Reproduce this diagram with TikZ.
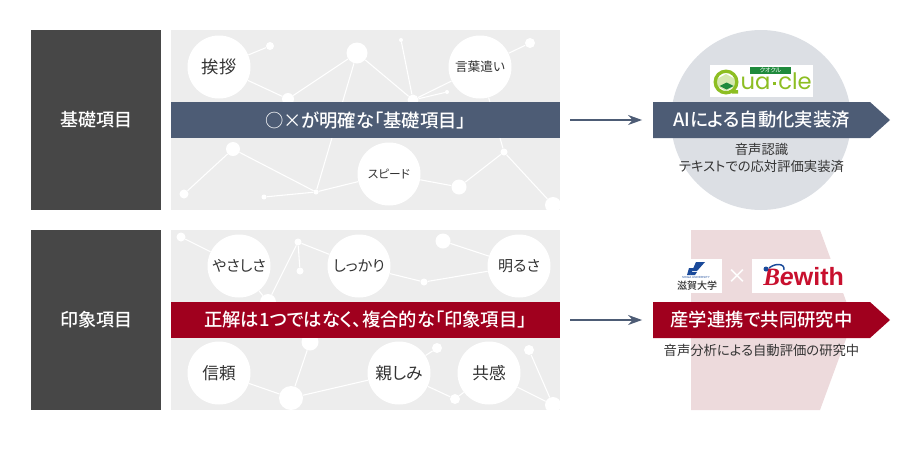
\documentclass[tikz,border=0pt]{standalone}
\usepackage{fontspec}
\setmainfont[RawFeature=+palt,BoldFont={Noto Sans CJK JP Medium}]{Noto Sans CJK JP}
\newfontfamily\logofont{Poppins}
\newfontfamily\bwfont{Liberation Sans}
\newfontfamily\bwserif{Liberation Serif}
\usepackage{xcolor}
\usetikzlibrary{arrows.meta,positioning}
\definecolor{ink}{HTML}{333333}
\definecolor{slab}{HTML}{474747}
\definecolor{navy}{HTML}{4D5C75}
\definecolor{wine}{HTML}{A0001E}
\definecolor{panel}{HTML}{EDEDED}
\definecolor{mist}{HTML}{DCDFE4}
\definecolor{blush}{HTML}{EDDADC}
\definecolor{leaf}{HTML}{8DBE22}
\definecolor{pale}{HTML}{D5E8B0}
\definecolor{moss}{HTML}{1F8A3C}
\definecolor{shiga}{HTML}{1A4A9A}
\definecolor{bwred}{HTML}{C8102E}
\newcommand{\sz}[1]{\fontsize{#1}{#1}\selectfont}
\begin{document}
\begin{tikzpicture}[x=.75pt,y=-.75pt,>={Stealth[length=10.5pt,width=7.5pt]},
   dot/.style={circle,fill=white,inner sep=0pt,minimum size=#1*1.5pt},
   word/.style={circle,fill=white,inner sep=0pt,minimum size=47.25pt,text=ink,font=\sz{#1}},
   link/.style={draw=white,line width=.8pt},
   slabbox/.style={fill=slab,text=white,minimum width=97.5pt,minimum height=135pt,inner sep=0pt,font=\bfseries\sz{13.5}},
   bar/.style={fill=#1,text=white,minimum width=291.75pt,minimum height=27pt,inner sep=0pt,font=\bfseries\sz{13.75}},
   goal/.style={text=white,inner sep=0pt,minimum width=162.75pt,minimum height=27pt,font=\bfseries\sz{13.75}},
   note/.style={text=ink,align=center,inner sep=0pt,font=\sz{10}},
   logo/.style={inner sep=0pt,anchor=base}]
  \useasboundingbox (0,0) rectangle (916,458);
  \node[slabbox] (kiso) at (96,120) {基礎項目};
  \node[slabbox] (insho) at (96,320) {印象項目};

  \fill[panel] (171,30) rectangle (560,210);
  \begin{scope}
    \clip (171,30) rectangle (560,210);
    \foreach \n/\x/\y/\r in {a1/270/46/4,a2/357/53/10.5,a3/288/99/6,a4/401/40/2,a5/413/100/5.5,a6/447/92/2,
        a7/530/43/5,a8/233/149/7,a9/184/194/4.5,a10/264/197/2.5,a11/316/192/2.5,a12/459/187/7.5,a13/504/152/3.5,a14/553/205/8}
      \node[dot=\r] (\n) at (\x,\y) {};
    \node[word=13] (aisatsu) at (219,67) {挨拶};
    \node[word=9.5] (kotoba) at (480,67) {言葉遣い};
    \node[word=8.75] (speed) at (389,174) {スピード};
    \foreach \p/\q in {aisatsu/a1,aisatsu/a3,a3/a2,a2/a5,a2/a11,a4/a5,a5/a6,a5/kotoba,kotoba/a7,kotoba/a13,
        a8/a9,a8/a11,a10/a11,a11/speed,speed/a12,a12/a13,a13/a14}
      \draw[link] (\p) -- (\q);
  \end{scope}

  \fill[panel] (171,230) rectangle (560,410);
  \begin{scope}
    \clip (171,230) rectangle (560,410);
    \foreach \n/\x/\y/\r in {b1/181/237/4.5,b2/298/242/3.5,b3/300/271/3.5,b4/268/302/8,b5/443/241/7.5,b6/424/282/3.5,
        b7/310/342/8.5,b8/291/398/12,b9/437/348/5,b10/455/399/5,b11/529/350/5,b12/553/405/8}
      \node[dot=\r] (\n) at (\x,\y) {};
    \node[word=11.25] (yasashisa) at (239,266) {やさしさ};
    \node[word=11.25] (shikkari) at (359,266) {しっかり};
    \node[word=11.25] (akarusa) at (519,266) {明るさ};
    \node[word=12.5] (shinrai) at (219,373) {信頼};
    \node[word=12.5] (shitashimi) at (399,373) {親しみ};
    \node[word=12.5] (kyokan) at (489,373) {共感};
    \foreach \p/\q in {b1/yasashisa,yasashisa/b4,b4/b2,b2/b3,b2/shikkari,shikkari/b6,b6/akarusa,b5/akarusa,
        shinrai/b8,b8/b7,b8/shitashimi,shitashimi/b9,shitashimi/b10,b10/kyokan,kyokan/b12,b11/b12}
      \draw[link] (\p) -- (\q);
  \end{scope}

  \node[bar=navy] (maru) at (365.5,120) {{\mdseries ○×}が明確な「基礎項目」};
  \node[bar=wine] (seikai) at (365.5,320) {正解は1つではなく、複合的な「印象項目」};

  \fill[mist] (761,120) circle (90);
  \fill[blush] (691,230) -- (820,230) -- (853,320) -- (820,410) -- (691,410) -- cycle;

  \fill[navy] (653,102) -- (870,102) -- (890,120) -- (870,138) -- (653,138) -- cycle;
  \fill[wine] (653,302) -- (870,302) -- (890,320) -- (870,338) -- (653,338) -- cycle;
  \node[goal] (ai) at (761.5,120) {AIによる自動化実装済};
  \node[goal] (sangaku) at (761.5,320) {産学連携で共同研究中};
  \node[note,below=3.5pt of ai.south] (onsei) {音声認識\\[3pt]テキストでの応対評価実装済};
  \node[note,below=4pt of sangaku.south] (bunseki) {音声分析による自動評価の研究中};

  \draw[->,draw=navy,line width=.9pt,shorten <=7.5pt,shorten >=8pt] (maru.east) -- (ai.west);
  \draw[->,draw=navy,line width=.9pt,shorten <=7.5pt,shorten >=8pt] (seikai.east) -- (sangaku.west);

  \fill[white] (710,65) rectangle (813,97);
  \fill[pale] (726,74) -- (735,79) -- (735,86) -- (726,91) -- (717,86) -- (717,79) -- cycle;
  \draw[leaf,line width=2.5pt] (726,82) circle (10.8);
  \fill[moss] (726.5,82.5) -- (733.5,86) -- (726.5,89.5) -- (719.5,86) -- cycle;
  \fill[leaf] (729,90) -- (738,90) -- (738,93.5) -- (732,93.5) -- cycle;
  \fill[moss] (750,67) rectangle (791,74);
  \node[text=white,inner sep=0pt,font=\sz{4.5}] (kuoqul) at (770.5,70.5) {クオクル};
  \node[logo,text=leaf,font=\logofont\sz{17}] (quaua) at (755.5,89) {ua};
  \node[logo,text=leaf,font=\logofont\sz{17}] (quacle) at (795,89) {cle};
  \fill[leaf] (772.5,81.5) rectangle (775.5,84.5);

  \fill[white] (673,258.5) rectangle (722,293);
  \fill[shiga] (696,262) -- (705,262) -- (697,271) -- (692,271) -- cycle;
  \fill[shiga] (689,268) -- (694,268) -- (690,275) -- (687,275) -- cycle;
  \fill[shiga] (691,272) -- (697,272) -- (695,275) -- (690,275) -- cycle;
  \node[text=shiga,inner sep=0pt,font=\bwfont\sz{2.2}] (shigaen) at (696,277.5) {SHIGA UNIVERSITY};
  \node[text=ink,inner sep=0pt,font=\bfseries\sz{7.5}] (shigadai) at (697,285.5) {滋賀大学};
  \node[text=white,inner sep=0pt,font=\bfseries\sz{15}] (times) at (737,276) {×};
  \fill[white] (752,258.5) rectangle (845,293);
  \node[logo,anchor=base west,text=bwred,font=\bwfont\bfseries\sz{18.75}] (bewith) at (763,285) {{\bwserif\itshape B}{\itshape e}with};
  \draw[shiga,line width=1.1pt] (769,268) .. controls (775,263) and (785,263) .. (784,270);
  \fill[shiga] (766,269) circle (2.5);
\end{tikzpicture}
\end{document}
